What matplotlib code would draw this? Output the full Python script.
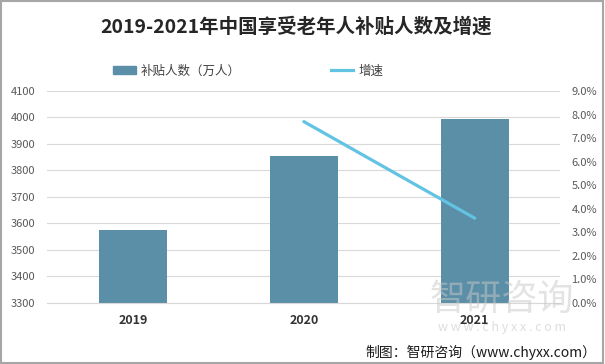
import matplotlib.pyplot as plt
from matplotlib.patches import Rectangle
from matplotlib.lines import Line2D

plt.rcParams['font.family'] = ['Noto Sans CJK SC', 'DejaVu Sans']

years = ['2019', '2020', '2021']
people = [3575, 3853, 3994]          # 补贴人数（万人）
growth_years = ['2020', '2021']
growth = [7.7, 3.6]                  # 增速 %

bar_color = '#5b8ea7'
line_color = '#62c3e3'
tick_color = '#595959'

fig = plt.figure(figsize=(6.05, 3.64), dpi=100)
ax = fig.add_axes([0.0785, 0.1676, 0.8475, 0.5824])
ax2 = ax.twinx()

x = range(len(years))
ax.bar(x, people, width=0.4, color=bar_color, zorder=2)
ax.set_ylim(3300, 4100)
ax.set_yticks(range(3300, 4101, 100))
ax.set_xlim(-0.5, 2.5)
ax.set_xticks(list(x))
ax.set_xticklabels(years, fontsize=9, fontweight='bold', color='#333333')
ax.grid(axis='y', color='#d9d9d9', linewidth=0.8, zorder=0)

gx = [years.index(y) for y in growth_years]
ax2.plot(gx, growth, color=line_color, linewidth=2.3, solid_capstyle='round', zorder=3)
ax2.set_ylim(0, 9)
ax2.set_yticks([i for i in range(10)])
ax2.set_yticklabels([f'{i:.1f}%' for i in range(10)])

for a in (ax, ax2):
    for s in a.spines.values():
        s.set_visible(False)
    a.tick_params(length=0, labelsize=8, labelcolor=tick_color)
ax.tick_params(axis='x', pad=8, labelsize=9, labelcolor='#333333')
ax.tick_params(axis='y', pad=9)
ax2.tick_params(axis='y', pad=8)
ax.spines['bottom'].set_visible(True)
ax.spines['bottom'].set_color('#d9d9d9')

fig.text(0.49, 0.925, '2019-2021年中国享受老年人补贴人数及增速', ha='center', va='center',
         fontsize=14, fontweight='bold', color='#262626')

handles = [Rectangle((0, 0), 1, 1, color=bar_color),
           Line2D([0], [0], color=line_color, linewidth=2.3)]
fig.legend(handles, ['补贴人数（万人）', '增速'], loc='center', bbox_to_anchor=(0.41, 0.805),
           ncol=2, frameon=False, fontsize=9, columnspacing=7.2, handlelength=1.8,
           handletextpad=0.4, labelcolor='#404040')

# watermark
fig.text(0.83, 0.175, '智研咨询', ha='center', va='center', fontsize=26,
         color='#c8c8c8', alpha=0.5)
fig.text(0.83, 0.1, 'w w w . c h y x x . c o m', ha='center', va='center', fontsize=9,
         color='#c8c8c8', alpha=0.6)

fig.text(0.985, 0.033, '制图：智研咨询（www.chyxx.com）', ha='right', va='center',
         fontsize=10, color='#1a1a1a')

fig.patches.append(Rectangle((0.002, 0.003), 0.995, 0.994, transform=fig.transFigure,
                             fill=False, edgecolor='#a6a6a6', linewidth=1.5))

fig.savefig('out.png', dpi=100)
